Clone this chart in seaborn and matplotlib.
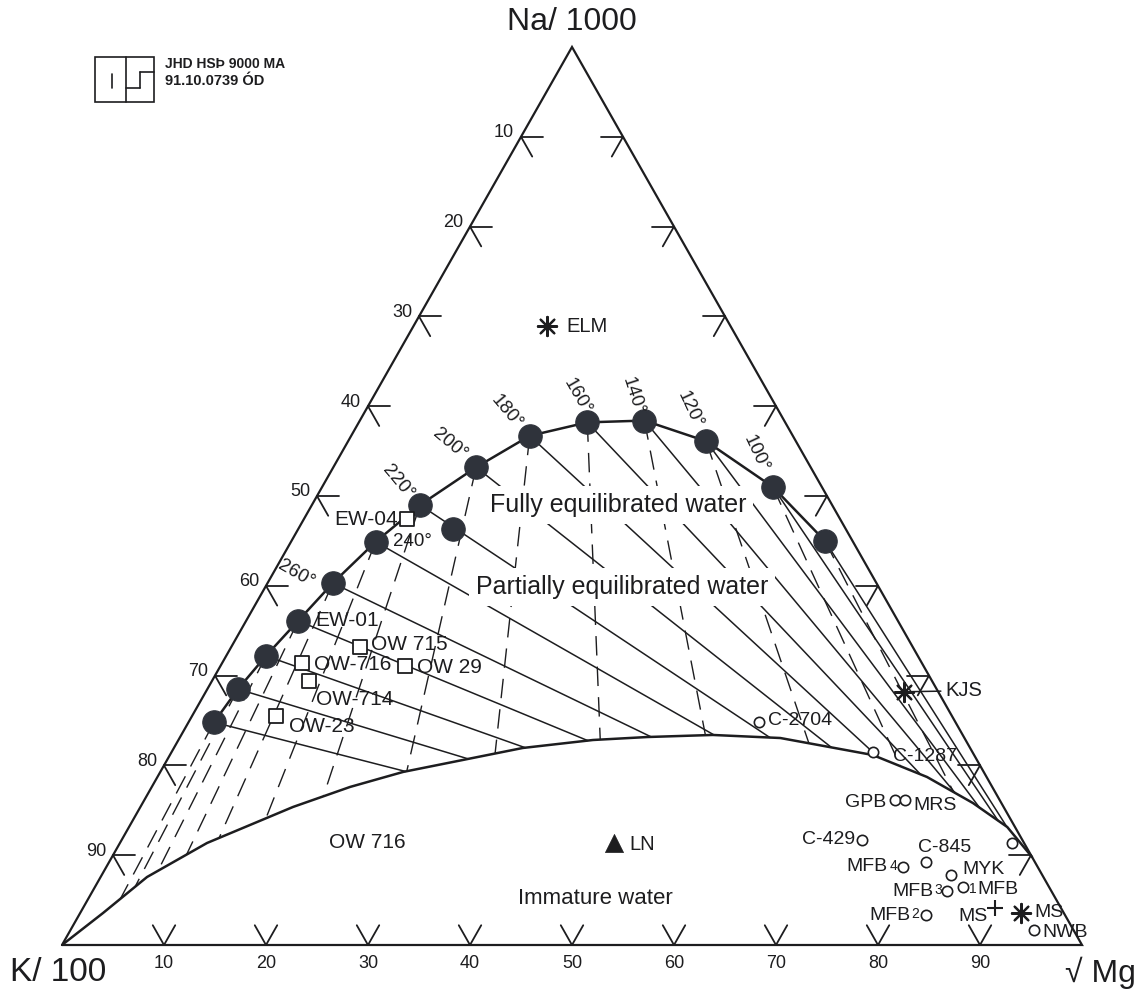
import numpy as np
import pandas as pd
import matplotlib
matplotlib.use("Agg")
import matplotlib.pyplot as plt
from matplotlib.lines import Line2D
from matplotlib.patches import Rectangle
import seaborn as sns

sns.set_theme(style="white")
plt.rcParams["font.family"] = ["Liberation Sans", "DejaVu Sans"]

INK = "#1d1d1f"
DOT = "#2f333b"

# Compositions are percentages of (Na/1000 + K/100 + sqrt(Mg)).
# Full-equilibrium line (high temperature at the K side)
eq_na = [24.8, 28.5, 32.2, 36.1, 40.3, 44.9, 49.0, 53.2, 56.7, 58.2, 58.4, 56.1, 51.0, 45.0]
eq_mg = [2.5, 3.0, 3.9, 5.1, 6.4, 8.3, 10.6, 14.0, 17.5, 22.4, 27.9, 35.1, 44.2, 52.3]
eq_labels = ["", "", "", "", "260°", "240°", "220°", "200°", "180°",
             "160°", "140°", "120°", "100°", ""]

# Boundary of immature waters
imm_na = [0.0, 3.56, 7.57, 11.36, 15.37, 17.6, 19.27, 21.94, 22.83, 23.16,
          23.39, 23.05, 21.16, 18.71, 15.81, 13.14, 9.8]
imm_mg = [0.0, 2.24, 4.55, 8.54, 14.96, 19.44, 23.8, 34.2, 40.65, 45.8,
          52.1, 58.9, 68.9, 75.45, 81.4, 86.1, 90.2]

# Extra filled sample on the 220° Na-K line
extra_na = [46.3]
extra_mg = [15.2]

# Well samples (open squares)
sq_names = ["EW-04", "OW 715", "OW-716", "OW 29", "OW-714", "OW-23"]
sq_na = [47.4, 33.2, 31.4, 31.1, 29.4, 25.5]
sq_mg = [10.1, 12.6, 7.8, 18.1, 9.5, 8.2]

# Spring samples (open circles)
ci_names = ["C-2704", "C-1287", "GPB", "MRS", "C-429", "C-845", "MFB4", "MYK",
            "MFB3", "MFB1", "MFB2", "NWB", ""]
ci_na = [24.8, 21.5, 16.2, 16.2, 11.7, 9.2, 8.7, 7.8, 6.0, 6.5, 3.3, 1.7, 11.4]
ci_mg = [55.9, 68.8, 73.6, 74.5, 72.6, 80.1, 78.1, 83.3, 83.8, 85.1, 83.1, 94.4, 87.4]

# Asterisks, cross and triangle
st_names = ["ELM", "KJS", "MS"]
st_na = [68.9, 28.2, 3.6]
st_mg = [13.1, 68.4, 92.2]
pl_names = ["MS"]
pl_na = [4.1]
pl_mg = [89.4]
tr_names = ["LN"]
tr_na = [11.4]
tr_mg = [48.4]

tick_values = [10, 20, 30, 40, 50, 60, 70, 80, 90]


def cart(na, mg):
    na = np.asarray(na, float)
    mg = np.asarray(mg, float)
    return mg + na / 2.0, na


def frame(names, na, mg):
    x, y = cart(na, mg)
    return pd.DataFrame({"name": names, "x": x, "y": y})


def hit_curve(p, d, cx, cy):
    best = None
    for i in range(len(cx) - 1):
        a = np.array([cx[i], cy[i]])
        e = np.array([cx[i + 1], cy[i + 1]]) - a
        m = np.array([[d[0], -e[0]], [d[1], -e[1]]])
        if abs(np.linalg.det(m)) < 1e-12:
            continue
        t, s = np.linalg.solve(m, a - p)
        if t > 1e-9 and -1e-9 <= s <= 1 + 1e-9:
            if best is None or t < best:
                best = t
    return p + best * d


W, H = 1143, 993
fig = plt.figure(figsize=(W / 100, H / 100), dpi=100)
fig.patch.set_facecolor("white")
ax = fig.add_axes([62 / W, 48 / H, 1020 / W, 898 / H])
ax.set_xlim(0, 100)
ax.set_ylim(0, 100)
ax.axis("off")

# Triangle frame
ax.plot([0, 100, 50, 0], [0, 0, 100, 0], color=INK, lw=1.6,
        solid_joinstyle="miter", clip_on=False, zorder=3)

# Chevron ticks along the three sides
d = 2.2
for v in tick_values:
    na_e = 100 - v
    pts = [
        ((0, v), [(d, v - d), (d, v)]),               # bottom
        ((na_e, 0), [(na_e, d), (na_e - d, d)]),      # left
        ((na_e, v), [(na_e, v - d), (na_e - d, v)]),  # right
    ]
    for (n0, m0), ends in pts:
        x0, y0 = cart(n0, m0)
        for n1, m1 in ends:
            x1, y1 = cart(n1, m1)
            ax.plot([x0, x1], [y0, y1], color=INK, lw=1.3, clip_on=False, zorder=3)
    # labels
    xb, yb = cart(0, v)
    ax.annotate(str(v), (xb, yb), xytext=(0, -19), textcoords="offset pixels",
                ha="center", va="center", fontsize=13, color=INK)
    xl, yl = cart(na_e, 0)
    ax.annotate(str(v), (xl, yl), xytext=(-7, 4), textcoords="offset pixels",
                ha="right", va="center", fontsize=13, color=INK)

# Immature water boundary and full-equilibrium line
icx, icy = cart(imm_na, imm_mg)
ax.plot(icx, icy, color=INK, lw=1.8, zorder=3)
ecx, ecy = cart(eq_na, eq_mg)
ax.plot(ecx, ecy, color=INK, lw=1.8, zorder=3)

# Na-K (toward Mg corner) and K-Mg (away from Na apex) isotherms
apex = np.array([50.0, 100.0])
mg_corner = np.array([100.0, 0.0])
for x, y in zip(ecx, ecy):
    p = np.array([x, y])
    q = hit_curve(p, mg_corner - p, icx, icy)
    ax.plot([p[0], q[0]], [p[1], q[1]], color=INK, lw=1.1, zorder=2)
    q = hit_curve(p, p - apex, icx, icy)
    ax.plot([p[0], q[0]], [p[1], q[1]], color=INK, lw=1.0,
            linestyle=(0, (14, 8)), zorder=2)

# Filled dots on the equilibrium line
dots = frame(eq_labels, eq_na, eq_mg)
sns.scatterplot(data=dots, x="x", y="y", ax=ax, s=285, color=DOT,
                edgecolor=DOT, linewidth=0.8, legend=False, zorder=6, clip_on=False)
sns.scatterplot(data=frame([""], extra_na, extra_mg), x="x", y="y", ax=ax, s=285,
                color=DOT, edgecolor=DOT, linewidth=0.8, legend=False, zorder=6)

temp_pos = {"260°": (-37, 9, -30), "240°": (37, 0, 0), "220°": (-22, 23, -50),
            "200°": (-26, 23, -40), "180°": (-23, 24, -50), "160°": (-10, 26, -60),
            "140°": (-12, 25, -72), "120°": (-16, 32, -65), "100°": (-17, 33, -65)}
for _, r in dots.iterrows():
    if r["name"]:
        dx, dy, rot = temp_pos[r["name"]]
        ax.annotate(r["name"], (r["x"], r["y"]), xytext=(dx, dy),
                    textcoords="offset pixels", ha="center", va="center",
                    rotation=rot, rotation_mode="anchor", fontsize=13.5, color=INK,
                    zorder=7)

# Region names (white boxes break the isotherms)
box = dict(facecolor="white", edgecolor="none", pad=5)
ax.text(54.5, 49.0, "Fully equilibrated water", ha="center", va="center",
        fontsize=18, color=INK, bbox=box, zorder=4)
ax.text(54.9, 39.9, "Partially equilibrated water", ha="center", va="center",
        fontsize=18, color=INK, bbox=box, zorder=4)
ax.text(52.3, 5.2, "Immature water", ha="center", va="center", fontsize=16, color=INK)
ax.text(29.9, 11.4, "OW 716", ha="center", va="center", fontsize=15, color=INK)

# Vertex labels
ax.text(50, 102.8, "Na/ 1000", ha="center", va="center", fontsize=23, color=INK,
        clip_on=False)
ax.text(-0.4, -3.1, "K/ 100", ha="center", va="center", fontsize=24, color=INK,
        clip_on=False)
ax.text(101.8, -3.1, "√ Mg", ha="center", va="center", fontsize=23, color=INK,
        clip_on=False)


def label(name, x, y, dx, dy, ha, size=14.5):
    if name.startswith("MFB") and name[-1].isdigit():
        digit = name[-1]
        if ha == "right":
            ax.annotate(digit, (x, y), xytext=(dx, dy + 1), textcoords="offset pixels",
                        ha="right", va="center", fontsize=10, color=INK, zorder=7)
            ax.annotate("MFB", (x, y), xytext=(dx - 9, dy), textcoords="offset pixels",
                        ha="right", va="center", fontsize=size, color=INK, zorder=7)
        else:
            ax.annotate(digit, (x, y), xytext=(dx, dy + 1), textcoords="offset pixels",
                        ha="left", va="center", fontsize=10, color=INK, zorder=7)
            ax.annotate("MFB", (x, y), xytext=(dx + 8, dy), textcoords="offset pixels",
                        ha="left", va="center", fontsize=size, color=INK, zorder=7)
        return
    ax.annotate(name, (x, y), xytext=(dx, dy), textcoords="offset pixels",
                ha=ha, va="center", fontsize=size, color=INK, zorder=7)


# Wells
sq = frame(sq_names, sq_na, sq_mg)
sns.scatterplot(data=sq, x="x", y="y", ax=ax, marker="s", s=105,
                facecolor="white", edgecolor=INK, linewidth=1.3, legend=False, zorder=6)
sq_off = [(-9, 0, "right"), (11, 2, "left"), (12, -1, "left"),
          (12, -2, "left"), (7, -19, "left"), (13, -10, "left")]
for (_, r), (dx, dy, ha) in zip(sq.iterrows(), sq_off):
    label(r["name"], r["x"], r["y"], dx, dy, ha, size=15)
# EW-01 sits on the 280° point
ax.annotate("EW-01", (ecx[3], ecy[3]), xytext=(17, 0), textcoords="offset pixels",
            ha="left", va="center", fontsize=15, color=INK, zorder=7)

# Springs
ci = frame(ci_names, ci_na, ci_mg)
sns.scatterplot(data=ci, x="x", y="y", ax=ax, marker="o", s=55,
                facecolor="white", edgecolor=INK, linewidth=1.2, legend=False, zorder=6)
ci_off = [(9, 2, "left"), (20, -5, "left"), (-9, -3, "right"), (9, -6, "left"),
          (-7, 0, "right"), (-8, 15, "left"), (-6, 0, "right"), (11, 5, "left"),
          (-5, 0, "right"), (6, -3, "left"), (-7, 0, "right"), (9, -3, "left"),
          (0, 0, "left")]
for (_, r), (dx, dy, ha) in zip(ci.iterrows(), ci_off):
    if r["name"]:
        label(r["name"], r["x"], r["y"], dx, dy, ha, size=14)

# Asterisks
st = frame(st_names, st_na, st_mg)
sns.scatterplot(data=st, x="x", y="y", ax=ax, marker=(8, 2, 0), s=190,
                color=INK, linewidth=1.6, legend=False, zorder=6)
ax.annotate("ELM", (st.x[0], st.y[0]), xytext=(19, 0), textcoords="offset pixels",
            ha="left", va="center", fontsize=14.5, color=INK)
ax.annotate("KJS", (st.x[1], st.y[1]), xytext=(42, 1), textcoords="offset pixels",
            ha="left", va="center", fontsize=14.5, color=INK,
            arrowprops=dict(arrowstyle="-", color=INK, lw=1.1, shrinkA=1, shrinkB=6))
ax.annotate("MS", (st.x[2], st.y[2]), xytext=(14, 0), textcoords="offset pixels",
            ha="left", va="center", fontsize=14, color=INK)

pl = frame(pl_names, pl_na, pl_mg)
sns.scatterplot(data=pl, x="x", y="y", ax=ax, marker="+", s=140,
                color=INK, linewidth=1.5, legend=False, zorder=6)
ax.annotate("MS", (pl.x[0], pl.y[0]), xytext=(-7, -8), textcoords="offset pixels",
            ha="right", va="center", fontsize=14, color=INK)

tr = frame(tr_names, tr_na, tr_mg)
sns.scatterplot(data=tr, x="x", y="y", ax=ax, marker="^", s=170,
                color=INK, edgecolor=INK, linewidth=0.5, legend=False, zorder=6)
ax.annotate("LN", (tr.x[0], tr.y[0]), xytext=(16, -2), textcoords="offset pixels",
            ha="left", va="center", fontsize=14.5, color=INK)


# Stamp in the upper-left corner
def fx(x):
    return x / W


def fy(y):
    return 1 - y / H


fig.add_artist(Rectangle((fx(95), fy(102)), 59 / W, 45 / H, transform=fig.transFigure,
                         fill=False, edgecolor=INK, lw=1.2))
for xs, ys in [([112, 112], [74, 88]), ([126, 126], [57, 102]),
               ([126, 140], [88, 88]), ([140, 140], [72, 88]), ([140, 154], [72, 72])]:
    fig.add_artist(Line2D([fx(v) for v in xs], [fy(v) for v in ys],
                          transform=fig.transFigure, color=INK, lw=1.2))
fig.text(fx(165), fy(64), "JHD HSÞ 9000 MA", ha="left", va="center",
         fontsize=10, color=INK, fontweight="bold")
fig.text(fx(165), fy(81), "91.10.0739 ÓD", ha="left", va="center",
         fontsize=10.5, color=INK, fontweight="bold")

fig.savefig("out.png", dpi=100, facecolor="white")
